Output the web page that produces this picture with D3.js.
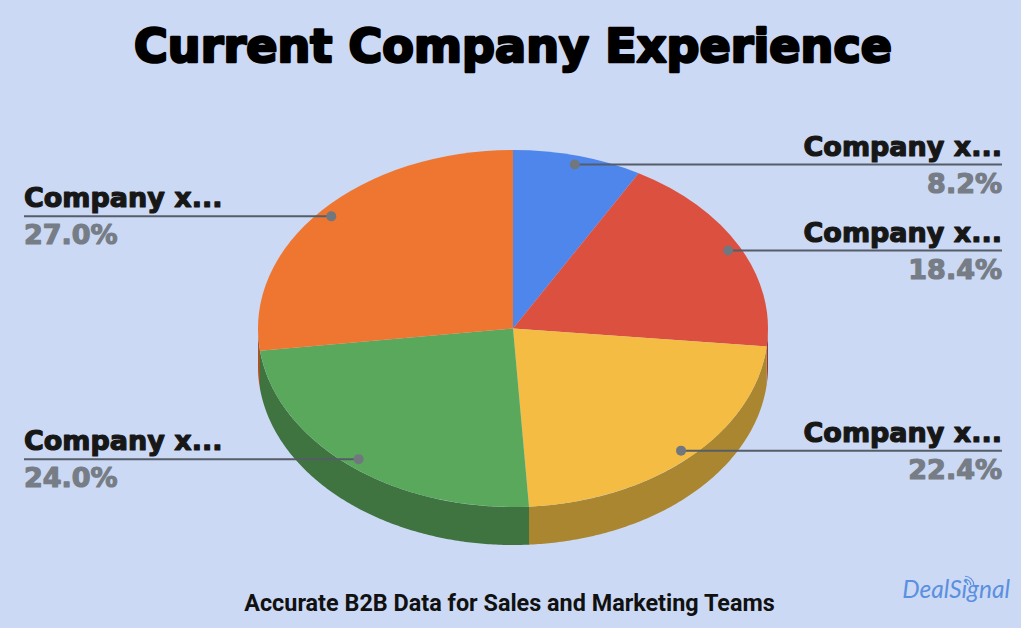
<!DOCTYPE html>
<html>
<head>
<meta charset="utf-8">
<script src="https://cdn.jsdelivr.net/npm/d3@7"></script>
<style>
  html, body { margin: 0; padding: 0; background: #fff; }
  svg { display: block; }
  text { stroke-linejoin: round; }
</style>
</head>
<body>
<svg id="chart"></svg>
<script>
let title = "Current Company Experience"
let subtitle = "Accurate B2B Data for Sales and Marketing Teams"
let brand = "DealSignal"

let categories = ["Company x...", "Company x...", "Company x...", "Company x...", "Company x..."]
let values = [8.2, 18.4, 22.4, 24.0, 27.0]
let topColors = ["#4f86ec", "#db503f", "#f4bc42", "#5aa85c", "#ef7630"]
let sideColors = ["#375ea5", "#99382c", "#aa8630", "#3f733f", "#a75322"]

let width = 1024
let height = 633
let cx = 513
let cy = 328.5
let rx = 255
let ry = 178.5
let depth = 38

let svg = d3.select("#chart").attr("width", width).attr("height", height)

svg.append("rect")
    .attr("width", 1021)
    .attr("height", 628)
    .attr("fill", "#cbd9f4")

// d3.arc draws a circle, the y scale squashes it into the tilted ellipse
let pie = d3.pie().sort(null).value(d => d)
let arcs = pie(values)
let radius = d3.scaleLinear().domain([0, 1]).range([0, rx])
let arc = d3.arc().innerRadius(0).outerRadius(radius(1))

let pointAt = (angle, r) => [
    cx + rx * r * Math.sin(angle),
    cy - ry * r * Math.cos(angle)
]

let line = d3.line()

// the side wall only shows on the front half of the pie
let sidePath = a => {
    let start = Math.max(a.startAngle, Math.PI / 2)
    let end = Math.min(a.endAngle, Math.PI * 1.5)
    if (end <= start) return null
    let steps = d3.range(start, end, 0.01).concat([end])
    let upper = steps.map(t => pointAt(t, 1))
    let lower = steps.slice().reverse().map(t => {
        let p = pointAt(t, 1)
        return [p[0], p[1] + depth]
    })
    return line(upper.concat(lower)) + "Z"
}

svg.append("g")
    .selectAll("path")
    .data(arcs)
    .enter()
    .append("path")
    .attr("d", sidePath)
    .attr("fill", (d, i) => sideColors[i])

svg.append("g")
    .attr("transform", "translate(" + cx + "," + cy + ") scale(1," + (ry / rx) + ")")
    .selectAll("path")
    .data(arcs)
    .enter()
    .append("path")
    .attr("d", arc)
    .attr("fill", (d, i) => topColors[i])

svg.append("text")
    .attr("x", 513)
    .attr("y", 62)
    .attr("text-anchor", "middle")
    .attr("font-family", "'DejaVu Sans'")
    .attr("font-weight", "bold")
    .attr("font-size", 46)
    .attr("textLength", 758)
    .attr("lengthAdjust", "spacing")
    .attr("stroke", "#000")
    .attr("stroke-width", 2.6)
    .attr("fill", "#000")
    .text(title)

svg.append("text")
    .attr("x", 509.5)
    .attr("y", 611)
    .attr("text-anchor", "middle")
    .attr("font-family", "Roboto")
    .attr("font-weight", "bold")
    .attr("font-size", 23.4)
    .attr("fill", "#111")
    .text(subtitle)

svg.append("text")
    .attr("x", 1010)
    .attr("y", 598)
    .attr("text-anchor", "end")
    .attr("font-family", "Lato")
    .attr("font-style", "italic")
    .attr("font-size", 24.5)
    .attr("fill", "#5b8fe0")
    .text(brand)

// little signal waves of the logo
svg.append("g")
    .attr("transform", "translate(965,585)")
    .selectAll("path")
    .data([3, 6, 9])
    .enter()
    .append("path")
    .attr("d", r => d3.arc()({ innerRadius: r - 0.8, outerRadius: r + 0.3, startAngle: 0, endAngle: Math.PI / 2 }))
    .attr("fill", "#5b8fe0")

// leader lines and labels, anchored on each slice's middle angle
let labels = svg.append("g")
    .selectAll("g")
    .data(arcs)
    .enter()
    .append("g")
    .each(function(d, i) {
        let mid = (d.startAngle + d.endAngle) / 2
        let p = pointAt(mid, 0.95)
        let right = mid < Math.PI
        let edge = right ? 1002 : 24
        let anchor = right ? "end" : "start"
        let g = d3.select(this)

        g.append("line")
            .attr("x1", p[0])
            .attr("y1", p[1])
            .attr("x2", edge)
            .attr("y2", p[1])
            .attr("stroke", "#555d68")
            .attr("stroke-width", 2)

        g.append("circle")
            .attr("cx", p[0])
            .attr("cy", p[1])
            .attr("r", 5)
            .attr("fill", "#71777f")

        g.append("text")
            .attr("x", edge)
            .attr("y", p[1] - 9)
            .attr("text-anchor", anchor)
            .attr("font-family", "'DejaVu Sans'")
            .attr("font-weight", "bold")
            .attr("font-size", 27)
            .attr("stroke", "#171717")
            .attr("stroke-width", 1.2)
            .attr("fill", "#171717")
            .text(categories[i])

        g.append("text")
            .attr("x", edge)
            .attr("y", p[1] + 28)
            .attr("text-anchor", anchor)
            .attr("font-family", "'DejaVu Sans'")
            .attr("font-weight", "bold")
            .attr("font-size", 27)
            .attr("stroke", "#777d86")
            .attr("stroke-width", 1.2)
            .attr("fill", "#777d86")
            .text(d3.format(".1f")(values[i]) + "%")
    })
</script>
</body>
</html>
